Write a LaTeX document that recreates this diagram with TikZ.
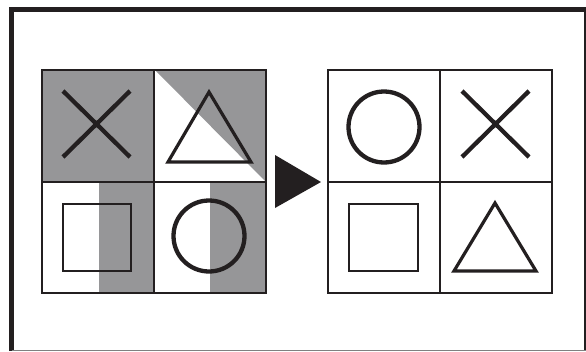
\documentclass[tikz,border=0pt]{standalone}
\definecolor{ink}{RGB}{35,31,32}
\definecolor{greyfill}{RGB}{150,150,152}
\begin{document}
\begin{tikzpicture}[x=1pt,y=-1pt,
  gridline/.style={draw=ink,line width=2.8pt},
  shapeline/.style={draw=ink,line width=4.3pt},
  thinshape/.style={draw=ink,line width=3.2pt},
  boxshape/.style={draw=ink,line width=2.7pt}]
\useasboundingbox (0,0) rectangle (586,351);
% outer frame
\draw[ink,line width=5pt] (11.5,351) -- (11.5,9.5) -- (586,9.5);
\draw[ink,line width=2pt] (584.5,9.5) -- (584.5,351);
\draw[gray,line width=1pt] (11.5,350.5) -- (586,350.5);
% left grid shading
\fill[greyfill] (42,70) rectangle (154,182);
\fill[greyfill] (156,71) -- (266,71) -- (266,182) -- cycle;
\fill[greyfill] (99,182) rectangle (154,293);
\fill[greyfill] (210,182) rectangle (266,293);
% left grid
\draw[gridline] (42,70) rectangle (266,293);
\draw[gridline] (154,70) -- (154,293);
\draw[gridline] (42,182) -- (266,182);
% left symbols
\draw[shapeline] (63,91) -- (130,157) (63,157) -- (130,91);
\draw[thinshape,line join=miter] (209,92) -- (251,162) -- (168,162) -- cycle;
\draw[boxshape] (63,204) rectangle (131,271);
\draw[shapeline] (209,236) circle (35.5);
% arrow
\fill[ink] (275,155) -- (321,182) -- (275,208) -- cycle;
% right grid
\draw[gridline] (328,70) rectangle (552,293);
\draw[gridline] (440,70) -- (440,293);
\draw[gridline] (328,182) -- (552,182);
% right symbols
\draw[shapeline] (384,127) circle (35.5);
\draw[shapeline] (462,91) -- (529,157) (462,157) -- (529,91);
\draw[boxshape] (349,204) rectangle (418,271);
\draw[thinshape,line join=miter] (495,203) -- (536,271) -- (454,271) -- cycle;
\end{tikzpicture}
\end{document}
